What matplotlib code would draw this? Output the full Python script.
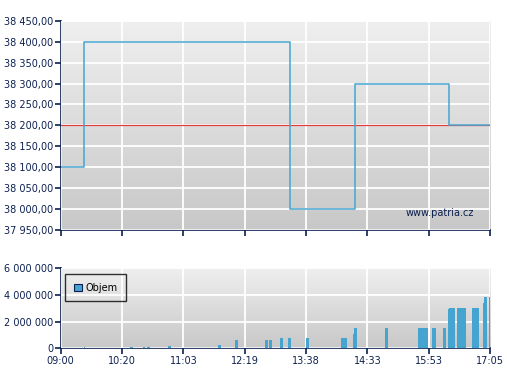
import numpy as np
import matplotlib.pyplot as plt
from matplotlib.colors import LinearSegmentedColormap
from matplotlib.patches import Rectangle

# x is on a session index axis: one unit between each labelled tick
time_labels = ['09:00', '10:20', '11:03', '12:19', '13:38', '14:33', '15:53', '17:05']

price_t = [0.0, 0.385, 3.734, 4.794, 6.336, 7.0]
price_v = [38100, 38400, 38000, 38300, 38200, 38200]
prev_close = 38200

vol_start = [0.372, 1.130, 1.334, 1.415, 1.750, 2.565, 2.842, 3.331, 3.396,
             3.576, 3.706, 4.000, 4.575, 4.766, 4.787, 5.288, 5.821, 6.054,
             6.233, 6.315, 6.336, 6.462, 6.708, 6.881, 6.907, 6.979]
vol_end = [0.404, 1.171, 1.374, 1.456, 1.798, 2.614, 2.891, 3.380, 3.445,
           3.625, 3.755, 4.049, 4.663, 4.787, 4.826, 5.332, 5.984, 6.114,
           6.277, 6.336, 6.424, 6.604, 6.822, 6.907, 6.946, 7.000]
vol_val = [0.10, 0.08, 0.08, 0.08, 0.17, 0.25, 0.62, 0.62, 0.62,
           0.77, 0.77, 0.77, 0.77, 1.07, 1.5, 1.5, 1.5, 1.5,
           1.5, 2.93, 3.0, 3.0, 3.0, 3.4, 3.85, 3.85]

navy = '#0c2050'
blue = '#45a5d0'
grad = LinearSegmentedColormap.from_list('g', ['#c8c8c8', '#efefef'])
fs = 7


def fmt(v, dec):
    s = f'{v:,.{dec}f}'.replace(',', ' ').replace('.', ',')
    return s


def style(ax):
    ax.imshow(np.linspace(0, 1, 256).reshape(-1, 1), cmap=grad, origin='lower',
              extent=(0, 1, 0, 1), transform=ax.transAxes, aspect='auto', zorder=0)
    ax.set_xlim(0, 7)
    ax.set_xticks(range(8))
    ax.grid(True, color='white', lw=1.3, zorder=1)
    ax.set_axisbelow(False)
    for s in ['top', 'right']:
        ax.spines[s].set_visible(False)
    for s in ['left', 'bottom']:
        ax.spines[s].set_color(navy)
        ax.spines[s].set_linewidth(1.2)
    ax.tick_params(colors=navy, labelcolor=navy, labelsize=fs, length=4, width=1.2, pad=1.5)


fig = plt.figure(figsize=(5.07, 3.80), dpi=100)
ax1 = fig.add_axes([0.1197, 0.3947, 0.8468, 0.5508])
ax2 = fig.add_axes([0.1197, 0.0834, 0.8468, 0.2105])

style(ax1)
ax1.set_ylim(37950, 38450)
yt = np.arange(37950, 38451, 50)
ax1.set_yticks(yt)
ax1.set_yticklabels([fmt(v, 2) for v in yt])
ax1.set_xticklabels([])
ax1.axhline(prev_close, color='#e04040', lw=0.9, zorder=3)
ax1.step(price_t, price_v, where='post', color=blue, lw=1.1, zorder=4)
ax1.text(0.962, 0.082, 'www.patria.cz', transform=ax1.transAxes, ha='right', va='center',
         fontsize=fs, color=navy, zorder=5)

style(ax2)
ax2.set_ylim(0, 6e6)
ax2.set_yticks([0, 2e6, 4e6, 6e6])
ax2.set_yticklabels([fmt(v, 0) for v in [0, 2e6, 4e6, 6e6]])
ax2.set_xticklabels(time_labels)
widths = [e - s for s, e in zip(vol_start, vol_end)]
ax2.bar(vol_start, [v * 1e6 for v in vol_val], width=widths, align='edge',
        color=blue, lw=0, zorder=3)
h = Rectangle((0, 0), 1, 1, facecolor=blue, edgecolor=navy, lw=0.8)
leg = ax2.legend([h], ['Objem'], loc='upper left', bbox_to_anchor=(0.01, 0.93),
                 fontsize=fs, frameon=True, fancybox=False, handlelength=0.8,
                 handleheight=0.8, borderpad=0.9, handletextpad=0.4, borderaxespad=0)
leg.get_frame().set_edgecolor('black')
leg.get_frame().set_facecolor('none')
leg.get_frame().set_linewidth(1)
leg.set_zorder(6)

fig.savefig('out.png', dpi=100)
